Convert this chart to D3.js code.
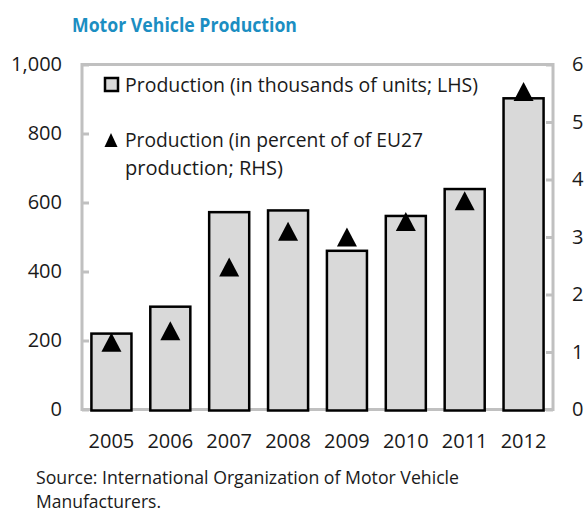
<!DOCTYPE html>
<html lang="en">
<head>
    <meta charset="UTF-8">
    <title>Motor Vehicle Production</title>
    <script src="https://cdnjs.cloudflare.com/ajax/libs/d3/7.8.5/d3.js"></script>
    <style>
        body { margin: 0; background: #fff; }
        svg text { font-family: "Open Sans", sans-serif; fill: #1a1a1a; }
    </style>
</head>
<body>
<svg id="chart" width="585" height="514"></svg>

<script>
    // data
    const years = ["2005", "2006", "2007", "2008", "2009", "2010", "2011", "2012"];
    const production = [220, 298, 572, 577, 460, 561, 639, 902];       // thousands of units, LHS
    const shareEU27 = [1.17, 1.37, 2.48, 3.10, 3.00, 3.27, 3.63, 5.53];  // percent, RHS
    const leftTicks = [0, 200, 400, 600, 800, 1000];
    const rightTicks = [0, 1, 2, 3, 4, 5, 6];

    const svg = d3.select("#chart");
    const plot = { left: 82, right: 553, top: 64.5, bottom: 409.5 };

    const x = d3.scaleBand()
        .domain(years)
        .range([plot.left, plot.right])
        .paddingInner(0.32)
        .paddingOuter(0.16);

    const yLeft = d3.scaleLinear().domain([0, 1000]).range([plot.bottom, plot.top]);
    const yRight = d3.scaleLinear().domain([0, 6]).range([plot.bottom, plot.top]);

    // title
    svg.append("text")
        .attr("x", 72)
        .attr("y", 32)
        .attr("textLength", 225)
        .attr("lengthAdjust", "spacingAndGlyphs")
        .style("font-weight", "bold")
        .style("font-size", "20px")
        .style("fill", "#1b8ec2")
        .text("Motor Vehicle Production");

    // frame
    svg.append("rect")
        .attr("x", plot.left)
        .attr("y", plot.top)
        .attr("width", plot.right - plot.left)
        .attr("height", plot.bottom - plot.top)
        .attr("fill", "none")
        .attr("stroke", "#c0c0c0")
        .attr("stroke-width", 3);

    // axes, ticks pointing inward
    const leftAxis = svg.append("g")
        .attr("transform", `translate(${plot.left},0)`)
        .call(d3.axisLeft(yLeft).tickValues(leftTicks).tickSize(-7).tickPadding(20)
            .tickFormat(d3.format(",")));
    const rightAxis = svg.append("g")
        .attr("transform", `translate(${plot.right},0)`)
        .call(d3.axisRight(yRight).tickValues(rightTicks).tickSize(-7).tickPadding(19)
            .tickFormat(d3.format("d")));

    [leftAxis, rightAxis].forEach(g => {
        g.select(".domain").remove();
        g.selectAll(".tick line").attr("stroke", "#c0c0c0").attr("stroke-width", 3);
        g.selectAll(".tick text").style("font-size", "20px").attr("fill", "#1a1a1a");
    });

    // bars
    svg.append("g")
        .selectAll("rect")
        .data(production)
        .join("rect")
        .attr("x", (d, i) => x(years[i]))
        .attr("y", d => yLeft(d))
        .attr("width", x.bandwidth())
        .attr("height", d => plot.bottom + 1 - yLeft(d))
        .attr("fill", "#d9d9d9")
        .attr("stroke", "#000")
        .attr("stroke-width", 2.5);

    // year labels
    svg.append("g")
        .attr("transform", `translate(0,${plot.bottom})`)
        .call(d3.axisBottom(x).tickSize(0).tickPadding(24))
        .call(g => g.select(".domain").remove())
        .selectAll("text")
        .style("font-size", "20px")
        .attr("fill", "#1a1a1a");

    // triangles
    const tri = "M0,-9.5L10,9.5L-10,9.5Z";
    svg.append("g")
        .selectAll("path")
        .data(shareEU27)
        .join("path")
        .attr("d", tri)
        .attr("transform", (d, i) => `translate(${x(years[i]) + x.bandwidth() / 2},${yRight(d)})`)
        .attr("fill", "#000");

    // legend
    const legend = svg.append("g");
    legend.append("rect")
        .attr("x", 105).attr("y", 78).attr("width", 13).attr("height", 13)
        .attr("fill", "#d9d9d9").attr("stroke", "#000").attr("stroke-width", 2.5);
    legend.append("path")
        .attr("d", "M0,-7L6.5,7L-6.5,7Z")
        .attr("transform", "translate(111,140)")
        .attr("fill", "#000");

    const legendLines = [
        { text: "Production (in thousands of units; LHS)", y: 92, len: 353 },
        { text: "Production (in percent of of EU27", y: 147, len: 298 },
        { text: "production; RHS)", y: 175, len: 158 }
    ];
    legend.selectAll("text.item")
        .data(legendLines)
        .join("text")
        .attr("class", "item")
        .attr("x", 125)
        .attr("y", d => d.y)
        .attr("textLength", d => d.len)
        .attr("lengthAdjust", "spacingAndGlyphs")
        .style("font-size", "20px")
        .text(d => d.text);

    // source note
    const sourceLines = [
        { text: "Source: International Organization of Motor Vehicle", y: 484, len: 423 },
        { text: "Manufacturers.", y: 508, len: 125 }
    ];
    svg.selectAll("text.source")
        .data(sourceLines)
        .join("text")
        .attr("class", "source")
        .attr("x", 36)
        .attr("y", d => d.y)
        .attr("textLength", d => d.len)
        .attr("lengthAdjust", "spacingAndGlyphs")
        .style("font-size", "17.5px")
        .text(d => d.text);
</script>
</body>
</html>
